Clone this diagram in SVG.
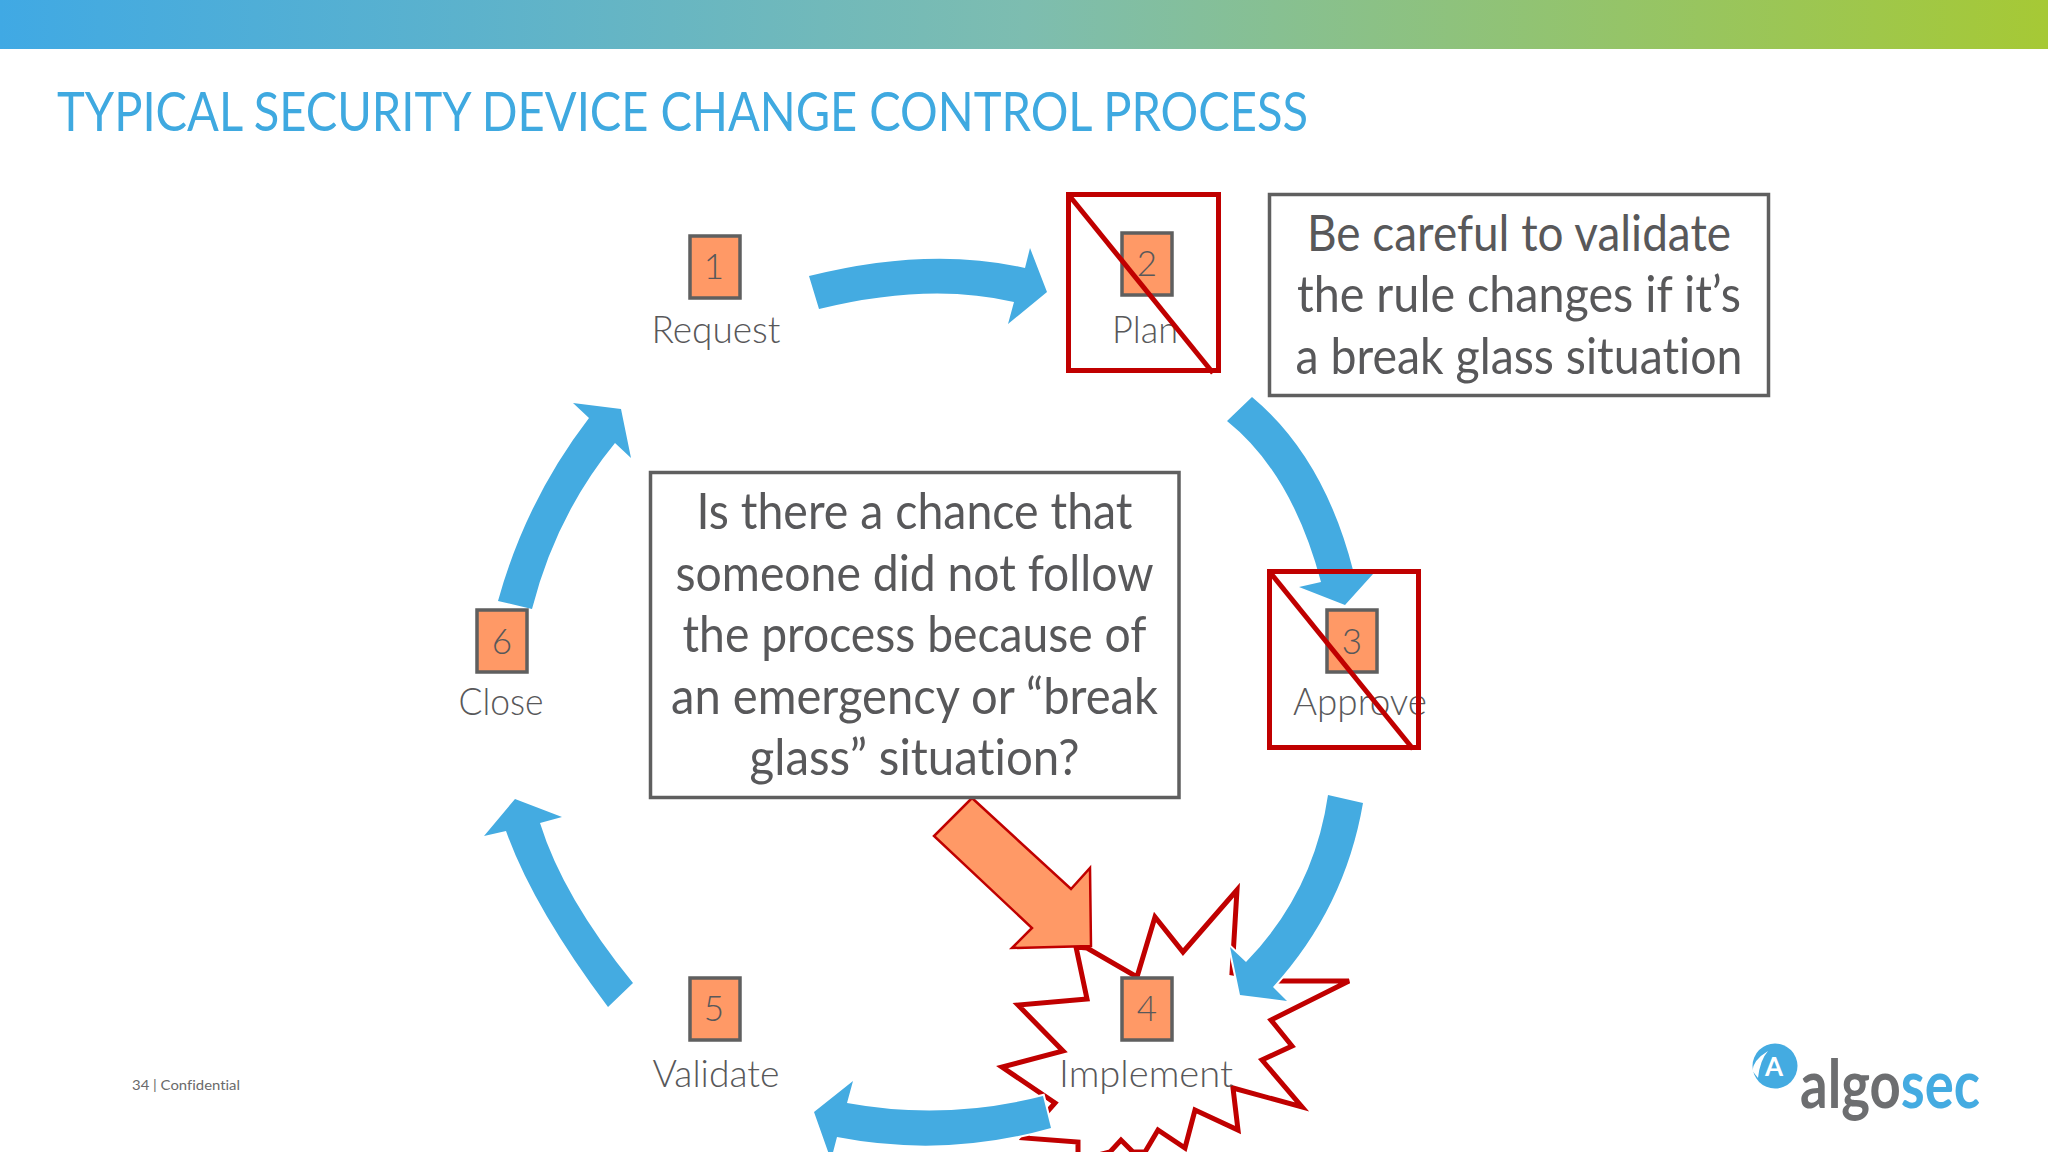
<svg xmlns="http://www.w3.org/2000/svg" width="2048" height="1152" viewBox="0 0 2048 1152">
<style>
text{font-family:Lato,"Open Sans","Liberation Sans",sans-serif;fill:#58585a;text-anchor:middle;font-variant-ligatures:none}
.lbl{font-size:37px;font-weight:300}
.num{font-size:35px;font-weight:300}
.body{font-size:50px;font-weight:400}
.sq{fill:#ff9966;stroke:#5f5f5f;stroke-width:3.5}
.box{fill:#fff;stroke:#5f5f5f;stroke-width:3.5}
.arr{fill:#44abe1}
.cut{fill:#44abe1;stroke:#fff;stroke-width:4;paint-order:stroke}
.red{fill:none;stroke:#c00000;stroke-width:5}
</style>
<defs><linearGradient id="bar" x1="0" x2="1" y1="0" y2="0"><stop offset="0" stop-color="#40a9e4"/><stop offset=".5" stop-color="#7dbdb0"/><stop offset="1" stop-color="#a6c935"/></linearGradient></defs>
<rect width="2048" height="1152" fill="#fff"/>
<rect id="topbar" width="2048" height="49" fill="url(#bar)"/>
<text id="title" x="57" y="131" font-size="54" textLength="1251" lengthAdjust="spacingAndGlyphs" style="text-anchor:start;fill:#3fa9e0;font-weight:400">TYPICAL SECURITY DEVICE CHANGE CONTROL PROCESS</text>
<polygon id="burst" fill="#fff" stroke="#c00000" stroke-width="5" points="1076,947 1087,999 1018,1005 1063,1051 1002,1067 1055,1103 1024,1138 1078,1142 1078,1160 1110,1152 1121,1140 1133,1152 1145,1152 1158,1130 1185,1148 1195,1110 1238,1130 1233,1088 1302,1107 1262,1060 1292,1046 1271,1020 1349,981 1278,981 1232,973 1237,890 1183,952 1155,917 1137,977 1087,948"/>
<g id="connectors">
<path class="arr" d="M809,276Q929,246 1025,268L1030,248 1047,292 1008,324 1014,302Q929,282 819,309Z"/>
<path class="arr" d="M1252,397Q1324,457 1353,570L1373,574 1345,605 1299,587 1321,582Q1292,473 1227,421Z"/>
<path class="cut" d="M1363,803Q1345,908 1273,987L1287,1001 1240,995 1230,947 1246,962Q1314,892 1328,795Z"/>
<path class="cut" d="M1043,1096Q945,1121 847,1103L853,1081 814,1112 831,1160 837,1137Q945,1158 1051,1128Z"/>
<path class="arr" d="M633,983Q563,897 540,823L562,817 515,799 484,836 506,831Q533,907 608,1007Z"/>
<path class="arr" d="M498,601Q526,500 589,418L573,403 621,409 631,458 615,443Q556,515 532,609Z"/>
<polygon id="callout-arrow" fill="#ff9966" stroke="#c00000" stroke-width="2.5" points="972,798 1071,889 1090,868 1091,946 1012,948 1032,928 934,836"/>
</g>
<g id="node1"><rect class="sq" x="690" y="236" width="50" height="62"/><text class="num" x="714" y="279">1</text><text class="lbl" x="716" y="343" textLength="129" lengthAdjust="spacingAndGlyphs">Request</text></g>
<g id="node2"><rect class="sq" x="1122" y="233" width="50" height="62"/><text class="num" x="1147" y="276">2</text><text class="lbl" x="1145" y="343" textLength="66" lengthAdjust="spacingAndGlyphs">Plan</text>
<rect class="red" x="1068.5" y="194.5" width="150" height="176"/><path class="red" d="M1068,194L1213,373"/></g>
<g id="node3"><rect class="sq" x="1327" y="610" width="50" height="62"/><text class="num" x="1352" y="654">3</text><text class="lbl" x="1360" y="715" textLength="134" lengthAdjust="spacingAndGlyphs">Approve</text>
<rect class="red" x="1269.5" y="571.5" width="149" height="176"/><path class="red" d="M1269,571L1413,749"/></g>
<g id="node4"><rect class="sq" x="1122" y="978" width="50" height="62"/><text class="num" x="1147" y="1021">4</text><text class="lbl" x="1146" y="1087" textLength="174" lengthAdjust="spacingAndGlyphs">Implement</text></g>
<g id="node5"><rect class="sq" x="690" y="978" width="50" height="62"/><text class="num" x="714" y="1021">5</text><text class="lbl" x="716" y="1087" textLength="127" lengthAdjust="spacingAndGlyphs">Validate</text></g>
<g id="node6"><rect class="sq" x="477" y="610" width="50" height="62"/><text class="num" x="502" y="654">6</text><text class="lbl" x="501" y="715" textLength="85" lengthAdjust="spacingAndGlyphs">Close</text></g>
<g id="note-validate"><rect class="box" x="1269.5" y="194.5" width="499" height="201"/>
<text class="body" x="1519" y="251" textLength="424" lengthAdjust="spacingAndGlyphs">Be careful to validate</text>
<text class="body" x="1519" y="312" textLength="444" lengthAdjust="spacingAndGlyphs">the rule changes if it’s</text>
<text class="body" x="1519" y="374" textLength="447" lengthAdjust="spacingAndGlyphs">a break glass situation</text></g>
<g id="note-question"><rect class="box" x="650.5" y="472.5" width="528.5" height="325"/>
<text class="body" x="914.5" y="529" textLength="436" lengthAdjust="spacingAndGlyphs">Is there a chance that</text>
<text class="body" x="914.5" y="591" textLength="478" lengthAdjust="spacingAndGlyphs">someone did not follow</text>
<text class="body" x="914.5" y="652" textLength="464" lengthAdjust="spacingAndGlyphs">the process because of</text>
<text class="body" x="914.5" y="714" textLength="487" lengthAdjust="spacingAndGlyphs">an emergency or “break</text>
<text class="body" x="914.5" y="775" textLength="330" lengthAdjust="spacingAndGlyphs">glass” situation?</text></g>
<text id="footer" x="132" y="1090" font-size="14" textLength="108" lengthAdjust="spacingAndGlyphs" style="text-anchor:start;fill:#6a6a6a">34 | Confidential</text>
<g id="logo"><circle cx="1775" cy="1066" r="22.500" fill="#44abe1"/>
<path d="M1752.500,1071Q1753,1060 1768,1051Q1760,1060 1758,1078Z" fill="#fff"/>
<text x="1774" y="1076" font-size="26" font-weight="700" style="fill:#fff">A</text>
<text x="1800" y="1108" font-size="66" font-weight="700" textLength="180" lengthAdjust="spacingAndGlyphs" style="text-anchor:start;fill:#6d6e70">algo<tspan style="fill:#44abe1">sec</tspan></text></g>
</svg>
